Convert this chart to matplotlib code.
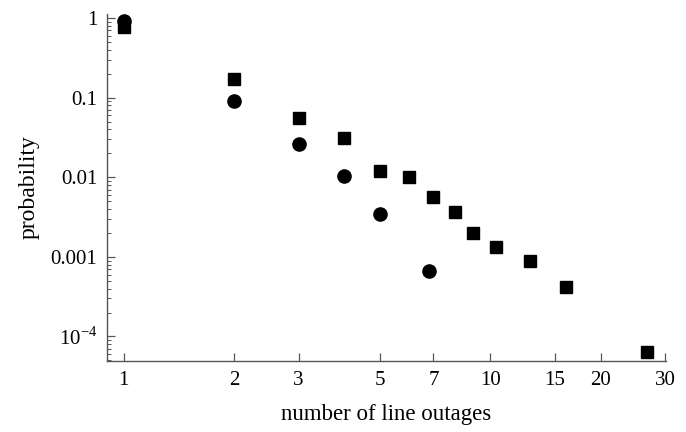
import matplotlib
matplotlib.use("Agg")
from matplotlib import pyplot as plt
from matplotlib.ticker import FixedLocator, FixedFormatter, LogLocator, NullFormatter, NullLocator

plt.rcParams['font.family'] = ['Liberation Serif', 'DejaVu Serif']
plt.rcParams['mathtext.fontset'] = 'custom'
plt.rcParams['mathtext.rm'] = 'Liberation Serif'

# squares
sq_x = [1, 2, 3, 4, 5, 6, 7, 8, 9, 10.4, 12.8, 16.1, 26.8]
sq_y = [0.78, 0.17, 0.055, 0.031, 0.012, 0.0102, 0.0057, 0.0037, 0.002, 0.00133, 0.00089, 0.00042, 0.000063]
# circles
ci_x = [1, 2, 3, 4, 5, 6.8]
ci_y = [0.92, 0.092, 0.026, 0.0105, 0.0035, 0.00066]

x_ticks = [1, 2, 3, 5, 7, 10, 15, 20, 30]
x_labels = ['1', '2', '3', '5', '7', '10', '15', '20', '30']
y_ticks = [1, 0.1, 0.01, 0.001, 0.0001]
y_labels = ['1', '0.1', '0.01', '0.001', r'$10^{-4}$']

fig = plt.figure(figsize=(6.86, 4.32), dpi=100)
ax = fig.add_axes([0.156, 0.164, 0.815, 0.804])

ax.plot(sq_x, sq_y, 's', color='black', markersize=8, linestyle='none')
ax.plot(ci_x, ci_y, 'o', color='black', markersize=9.5, linestyle='none')

ax.set_xscale('log')
ax.set_yscale('log')
ax.set_xlim(0.9, 30.2)
ax.set_ylim(10 ** -4.31, 1.13)

ax.xaxis.set_major_locator(FixedLocator(x_ticks))
ax.xaxis.set_major_formatter(FixedFormatter(x_labels))
ax.xaxis.set_minor_locator(NullLocator())
ax.yaxis.set_major_locator(FixedLocator(y_ticks))
ax.yaxis.set_major_formatter(FixedFormatter(y_labels))
ax.yaxis.set_minor_locator(LogLocator(base=10, subs=range(2, 10)))
ax.yaxis.set_minor_formatter(NullFormatter())

for s in ['top', 'right']:
    ax.spines[s].set_visible(False)
for s in ['left', 'bottom']:
    ax.spines[s].set_color('#555555')
    ax.spines[s].set_linewidth(1.0)

ax.tick_params(which='major', direction='in', length=6, width=0.9, color='#555555',
               labelsize=15, pad=7)
ax.tick_params(which='minor', direction='in', length=3, width=0.7, color='#555555')

ax.set_xlabel('number of line outages', fontsize=16.5, labelpad=10)
ax.set_ylabel('probability', fontsize=17, labelpad=8)

fig.savefig('out.png', dpi=100)
